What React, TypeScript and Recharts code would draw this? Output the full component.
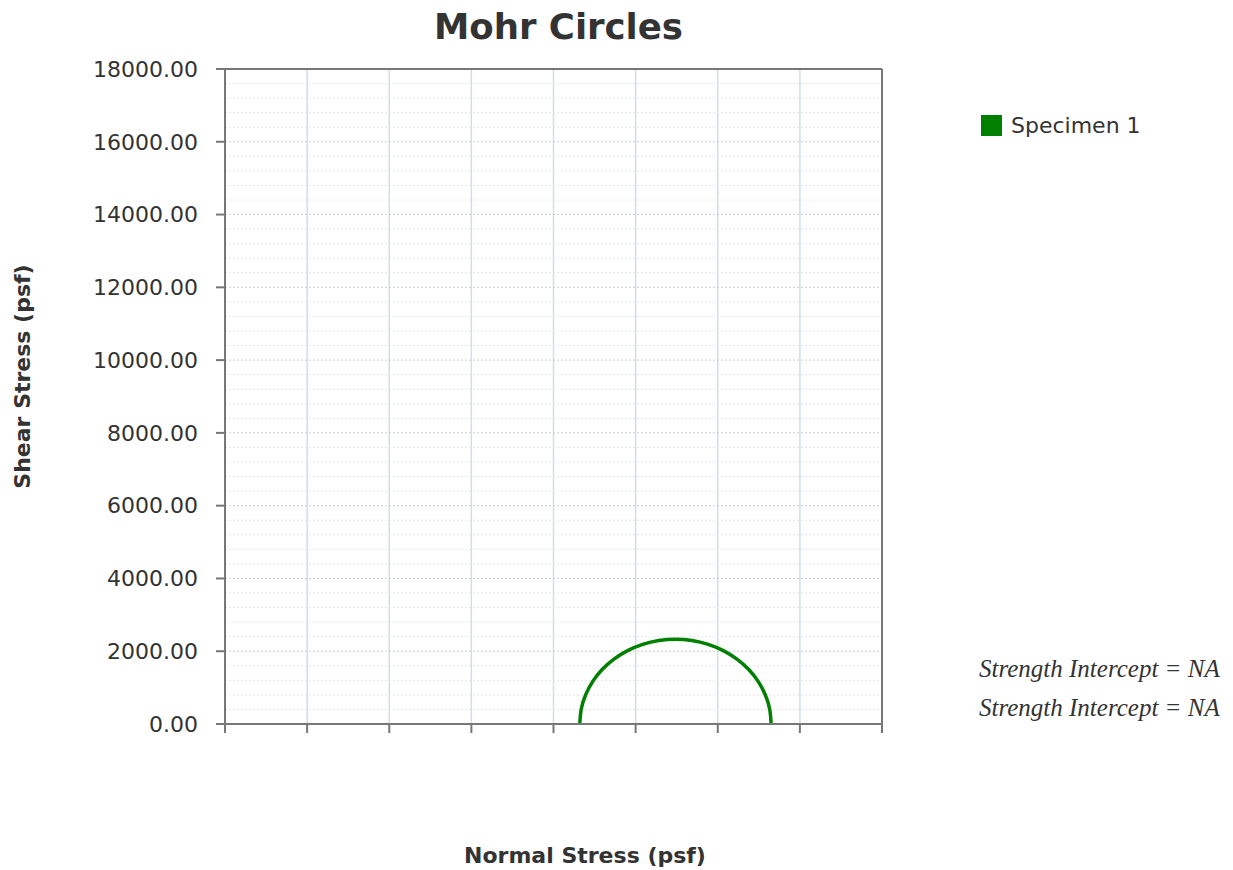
import React from "react"
import {
  LineChart,
  Line,
  XAxis,
  YAxis,
  CartesianGrid,
  ReferenceLine,
} from "recharts"

// semicircle points (normal stress, shear stress)
const normalStress = [
  13300, 13265, 13159, 12988, 12755, 12468, 12135, 11767, 11375, 10970,
  10565, 10173, 9805, 9472, 9185, 8952, 8781, 8675, 8640,
]
const shearStress = [
  0, 405, 797, 1165, 1498, 1785, 2018, 2189, 2295, 2330, 2295, 2189, 2018,
  1785, 1498, 1165, 797, 405, 0,
]

const xTicks = [0, 2000, 4000, 6000, 8000, 10000, 12000, 14000, 16000]
const yTicks = [0, 2000, 4000, 6000, 8000, 10000, 12000, 14000, 16000, 18000]
const yMinor = [
  400, 800, 1200, 1600, 2400, 2800, 3200, 3600, 4400, 4800, 5200, 5600, 6400,
  6800, 7200, 7600, 8400, 8800, 9200, 9600, 10400, 10800, 11200, 11600, 12400,
  12800, 13200, 13600, 14400, 14800, 15200, 15600, 16400, 16800, 17200, 17600,
]

const seriesName = "Specimen 1"
const notes = ["Strength Intercept = NA", "Strength Intercept = NA"]

const data = normalStress.map((x, i) => ({ x, y: shearStress[i] }))

const font = "Verdana, 'DejaVu Sans', sans-serif"

const App = () => {
  return (
    <div style={{ position: "absolute", left: 0, top: 0, width: 1233, height: 870, fontFamily: font }}>
      <div
        style={{
          position: "absolute",
          left: 230,
          width: 657,
          top: 6,
          textAlign: "center",
          fontSize: 35.5,
          fontWeight: "bold",
          color: "#333",
        }}
      >
        Mohr Circles
      </div>
      <LineChart
        width={1233}
        height={870}
        data={data}
        margin={{ top: 69, right: 351, bottom: 116, left: 0 }}
      >
        <CartesianGrid horizontal={false} stroke="#d3dde6" strokeWidth={1.5} />
        {yMinor.map((v) => (
          <ReferenceLine key={"m" + v} y={v} stroke="#e2e6ea" strokeDasharray="2 2" />
        ))}
        {yTicks.slice(1).map((v) => (
          <ReferenceLine key={"M" + v} y={v} stroke="#c9ced3" strokeDasharray="2 2" />
        ))}
        <ReferenceLine y={18000} stroke="#777" strokeWidth={2} />
        <ReferenceLine x={16000} stroke="#777" strokeWidth={2} />
        <XAxis
          dataKey="x"
          type="number"
          domain={[0, 16000]}
          ticks={xTicks}
          tickFormatter={() => ""}
          height={30}
          tickSize={9}
          stroke="#777"
          strokeWidth={2}
        />
        <YAxis
          type="number"
          domain={[0, 18000]}
          ticks={yTicks}
          width={225}
          tickSize={9}
          tickMargin={18}
          stroke="#777"
          strokeWidth={2}
          tick={{ fill: "#333", fontSize: 22, stroke: "none" }}
          tickFormatter={(v: number) => v.toFixed(2)}
        />
        <Line
          type="natural"
          dataKey="y"
          name={seriesName}
          stroke="#008000"
          strokeWidth={3.5}
          dot={false}
          isAnimationActive={false}
        />
      </LineChart>
      <div
        style={{
          position: "absolute",
          left: 0,
          top: 376,
          width: 44,
          height: 0,
          display: "flex",
          alignItems: "center",
          justifyContent: "center",
        }}
      >
        <div
          style={{
            transform: "rotate(-90deg)",
            whiteSpace: "nowrap",
            fontSize: 22,
            fontWeight: "bold",
            color: "#333",
          }}
        >
          Shear Stress (psf)
        </div>
      </div>
      <div
        style={{
          position: "absolute",
          left: 285,
          width: 600,
          top: 843,
          textAlign: "center",
          fontSize: 22,
          fontWeight: "bold",
          color: "#333",
        }}
      >
        Normal Stress (psf)
      </div>
      <div
        style={{
          position: "absolute",
          left: 981,
          top: 113,
          display: "flex",
          alignItems: "center",
          fontSize: 22,
          color: "#333",
          whiteSpace: "nowrap",
        }}
      >
        <span style={{ display: "inline-block", width: 21, height: 21, background: "#008000", marginRight: 9 }} />
        {seriesName}
      </div>
      {notes.map((t, i) => (
        <div
          key={i}
          style={{
            position: "absolute",
            left: 979,
            top: 655 + i * 39,
            fontFamily: "'Liberation Serif', serif",
            fontStyle: "italic",
            fontSize: 25,
            color: "#333",
            whiteSpace: "nowrap",
          }}
        >
          {t}
        </div>
      ))}
    </div>
  )
}

export default App
